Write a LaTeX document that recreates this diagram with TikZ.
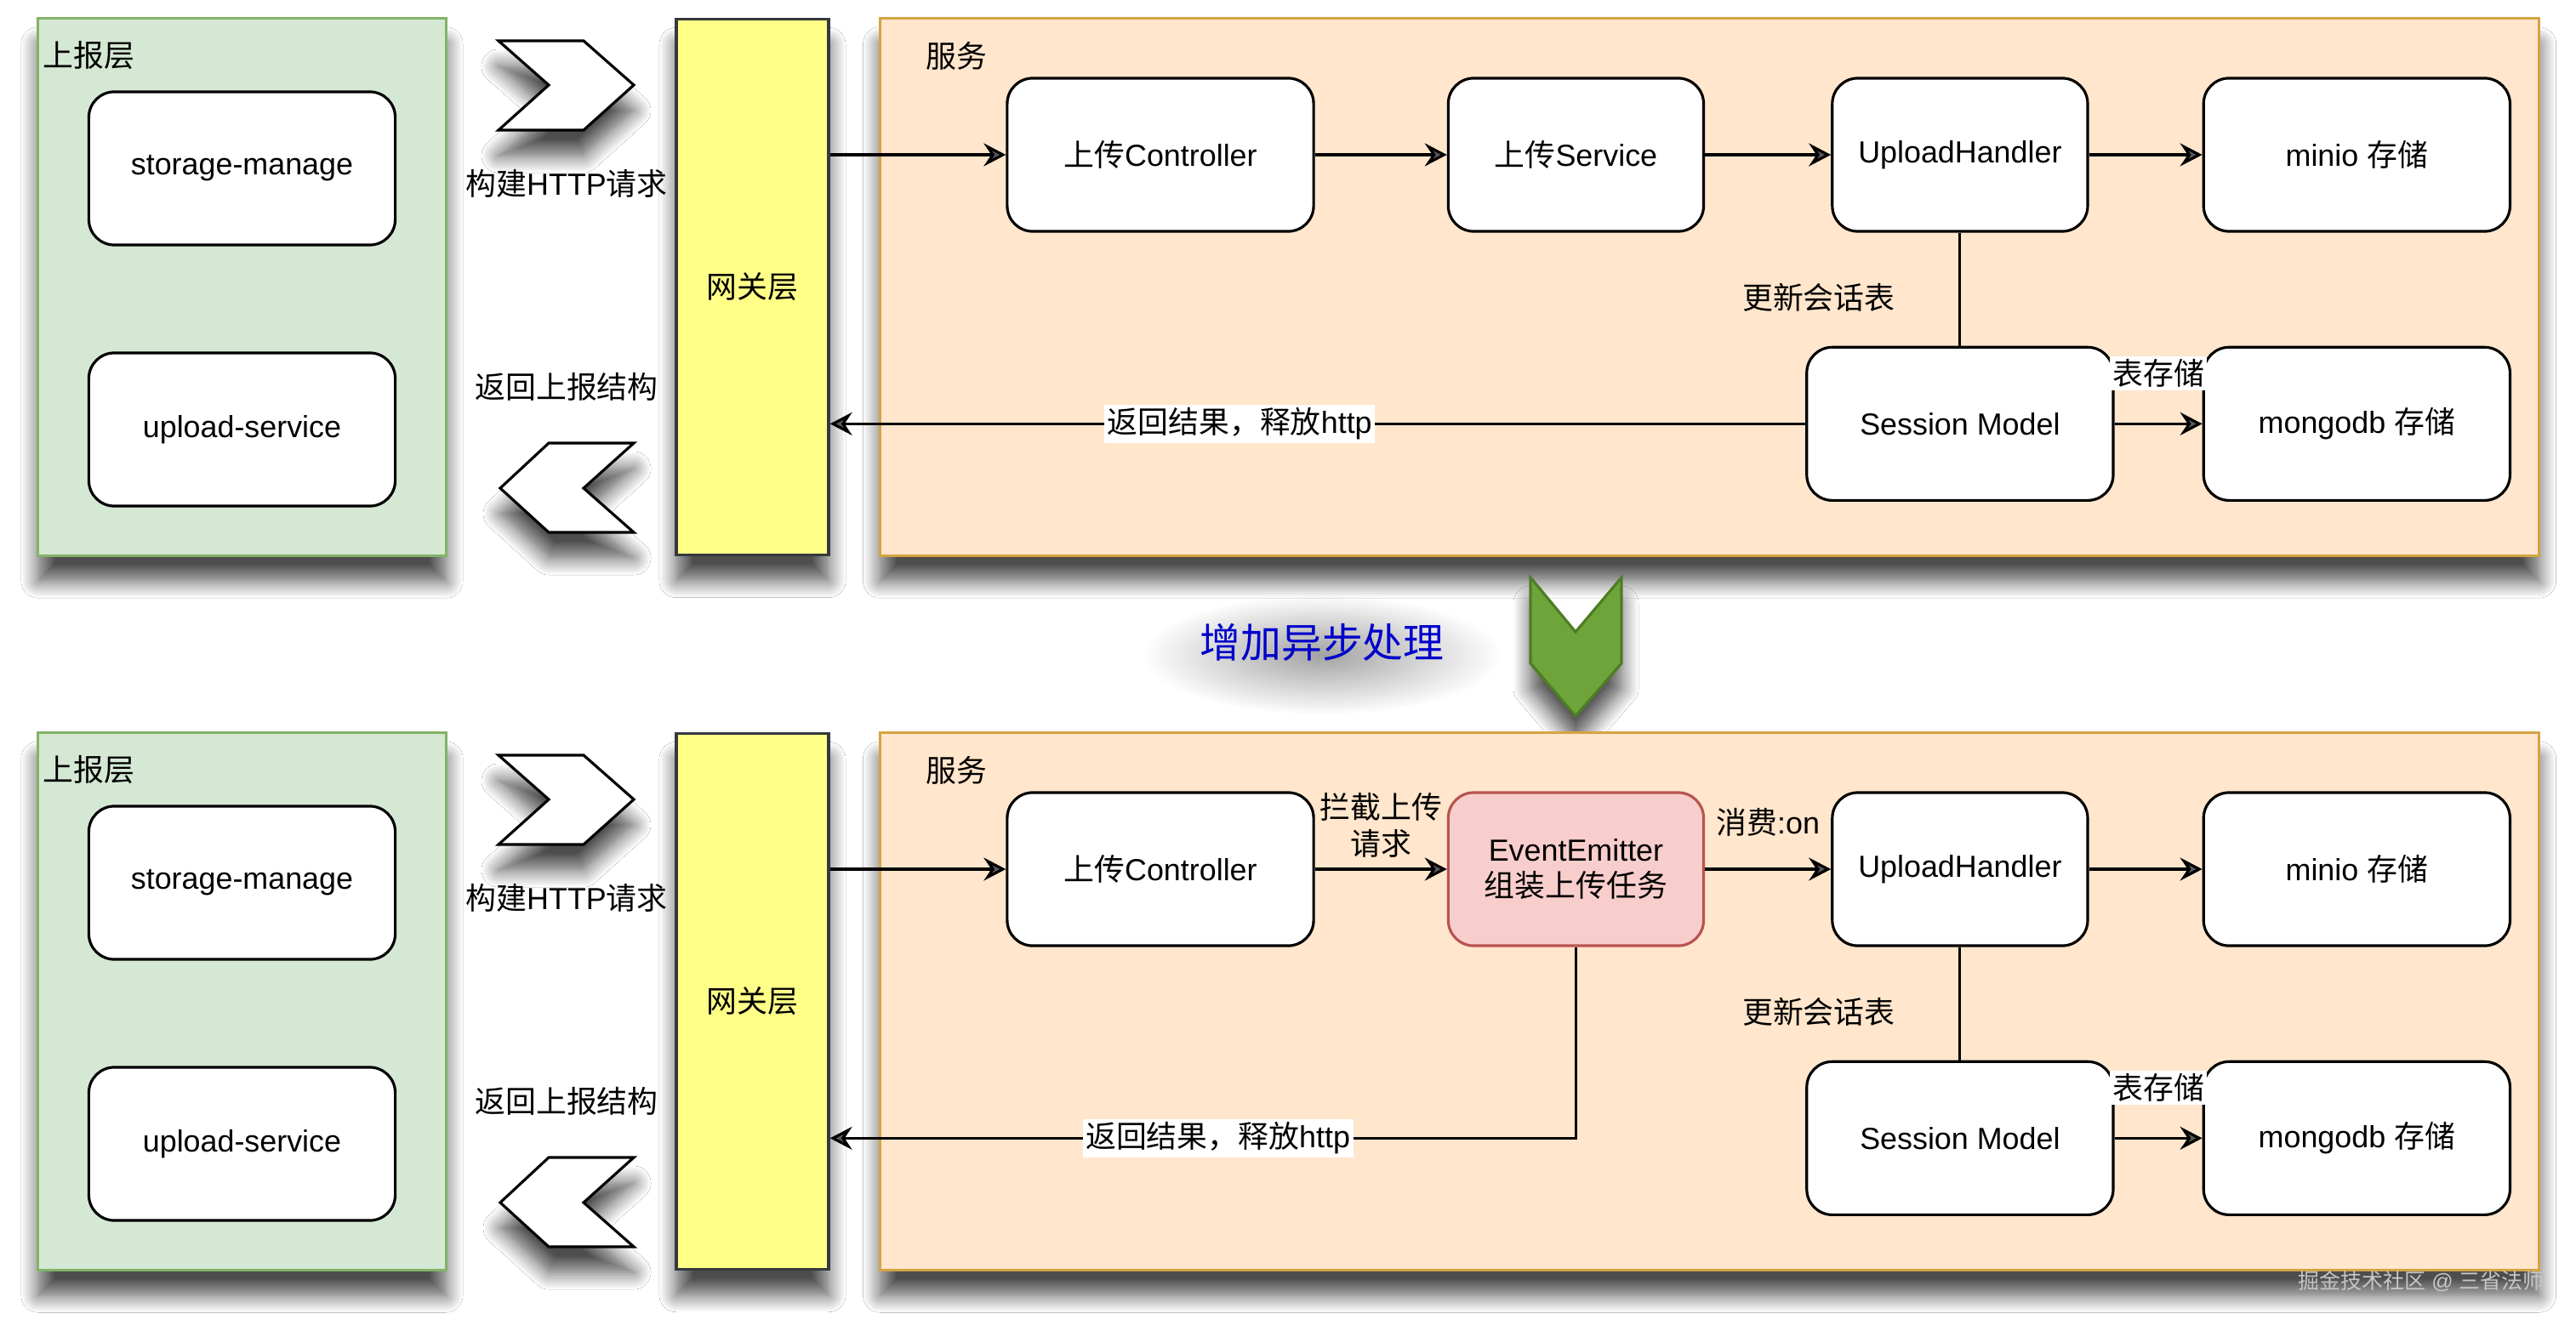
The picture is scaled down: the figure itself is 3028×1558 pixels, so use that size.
\documentclass[tikz,border=0pt]{standalone}
\usepackage{fontspec}
\setmainfont{Liberation Sans}
\newfontfamily\cjk{Noto Sans CJK SC}
\newcommand{\zh}[1]{{\cjk #1}}
\usetikzlibrary{arrows.meta,positioning,shadows.blur,fadings}
\definecolor{reportfill}{HTML}{D5E8D4}
\definecolor{reportline}{HTML}{82B366}
\definecolor{gwfill}{HTML}{FFFF88}
\definecolor{gwline}{HTML}{36393D}
\definecolor{svcfill}{HTML}{FFE6CC}
\definecolor{svcline}{HTML}{D4A443}
\definecolor{emitfill}{HTML}{F8CECC}
\definecolor{emitline}{HTML}{B85450}
\definecolor{asyncfill}{HTML}{6EA439}
\definecolor{asyncline}{HTML}{4D7D24}
\definecolor{asyncblue}{HTML}{0000CC}
\tikzfading[name=glow, inner color=transparent!20, outer color=transparent!100]

\begin{document}
\begin{tikzpicture}[
    x=0.01cm, y=-0.01cm,
    font=\fontsize{10.2}{12.2}\selectfont,
    soft/.style={blur shadow={shadow xshift=0mm, shadow yshift=-3mm, shadow blur steps=12, shadow blur radius=2mm, shadow opacity=70}},
    layer/.style={rectangle, line width=0.9pt, soft},
    box/.style={rectangle, rounded corners=0.3cm, draw=black, fill=white, line width=0.9pt, minimum width=3.6cm, minimum height=1.8cm, align=center},
    tag/.style={anchor=west, inner sep=0pt},
    chev/.style={draw=black, fill=white, line width=0.9pt, soft},
    arrow/.style={-{Stealth[length=2.6mm, width=2.7mm, inset=0.9mm]}, line width=0.9pt},
    link/.style={line width=0.9pt},
    note/.style={fill=white, inner sep=1pt}
]
    \fill[white] (0,0) rectangle (3028,1558);
    \useasboundingbox (0,0) rectangle (3028,1558);

    % before: synchronous upload
    \node[layer, draw=reportline, fill=reportfill, minimum width=4.79cm, minimum height=6.31cm] (report) at (284.5,337.5) {};
    \node[tag] (reportlab) at (50,65) {\zh{上报层}};
    \node[box] (storage) at (284.5,198) {storage-manage};
    \node[box] (uploadsvc) at (284.5,505) {upload-service};
    \draw[chev] (586,48) -- (686,48) -- (745,100) -- (686,153) -- (586,153) -- (645,100) -- cycle;
    \node (reqlab) at (666,216) {\zh{构建}HTTP\zh{请求}};
    \node (retlab) at (666,455) {\zh{返回上报结构}};
    \draw[chev] (745,521) -- (645,521) -- (588,574) -- (645,626) -- (745,626) -- (686,574) -- cycle;
    \node[layer, draw=gwline, fill=gwfill, minimum width=1.79cm, minimum height=6.3cm] (gw) at (884.5,337.5) {\zh{网关层}};
    \node[layer, draw=svcline, fill=svcfill, minimum width=19.49cm, minimum height=6.31cm] (svcarea) at (2009.5,337.5) {};
    \node[tag] (svclab) at (1088,66) {\zh{服务}};
    \node[box] (ctrl) at (1364,182) {\zh{上传}Controller};
    \node[box, minimum width=3cm, right=1.55cm of ctrl] (svc) {\zh{上传}Service};
    \node[box, minimum width=3cm, right=1.48cm of svc] (handler) {UploadHandler};
    \node[box, right=1.33cm of handler] (minio) {minio \zh{存储}};
    \node[box, below=1.33cm of handler] (session) {Session Model};
    \node[box, right=1.03cm of session] (mongo) {mongodb \zh{存储}};

    \draw[arrow] (gw.east |- ctrl.west) -- (ctrl.west);
    \draw[arrow] (ctrl) -- (svc);
    \draw[arrow] (svc) -- (handler);
    \draw[arrow] (handler) -- (minio);
    \draw[link] (handler) -- node[left=6.3mm, yshift=-1mm] (updlab) {\zh{更新会话表}} (session);
    \draw[arrow] (session) -- node[above=3.8mm, note] (storelab) {\zh{表存储}} (mongo);
    \draw[arrow] (session) -- node[pos=0.58, note] (backlab) {\zh{返回结果，释放}http} (session.west -| gw.east);

    % switch
    \fill[black!45, path fading=glow] (1554,770) ellipse (210 and 70);
    \node[text=asyncblue, font=\fontsize{13.6}{16}\selectfont] (async) at (1554,755) {\zh{增加异步处理}};
    \draw[chev, draw=asyncline, fill=asyncfill] (1799,679) -- (1852,743) -- (1906,679) -- (1906,780) -- (1852,842) -- (1799,780) -- cycle;

    % after: event emitter in between
    \node[layer, draw=reportline, fill=reportfill, minimum width=4.79cm, minimum height=6.31cm] (reportB) at (284.5,1177.5) {};
    \node[tag] (reportlabB) at (50,905) {\zh{上报层}};
    \node[box] (storageB) at (284.5,1038) {storage-manage};
    \node[box] (uploadsvcB) at (284.5,1345) {upload-service};
    \draw[chev] (586,888) -- (686,888) -- (745,940) -- (686,993) -- (586,993) -- (645,940) -- cycle;
    \node (reqlabB) at (666,1056) {\zh{构建}HTTP\zh{请求}};
    \node (retlabB) at (666,1295) {\zh{返回上报结构}};
    \draw[chev] (745,1361) -- (645,1361) -- (588,1414) -- (645,1466) -- (745,1466) -- (686,1414) -- cycle;
    \node[layer, draw=gwline, fill=gwfill, minimum width=1.79cm, minimum height=6.3cm] (gwB) at (884.5,1177.5) {\zh{网关层}};
    \node[layer, draw=svcline, fill=svcfill, minimum width=19.49cm, minimum height=6.31cm] (svcareaB) at (2009.5,1177.5) {};
    \node[tag] (svclabB) at (1088,906) {\zh{服务}};
    \node[box] (ctrlB) at (1364,1022) {\zh{上传}Controller};
    \node[box, minimum width=3cm, draw=emitline, fill=emitfill, right=1.55cm of ctrlB] (emitter) {EventEmitter\\\zh{组装上传任务}};
    \node[box, minimum width=3cm, right=1.48cm of emitter] (handlerB) {UploadHandler};
    \node[box, right=1.33cm of handlerB] (minioB) {minio \zh{存储}};
    \node[box, below=1.33cm of handlerB] (sessionB) {Session Model};
    \node[box, right=1.03cm of sessionB] (mongoB) {mongodb \zh{存储}};

    \draw[arrow] (gwB.east |- ctrlB.west) -- (ctrlB.west);
    \draw[arrow] (ctrlB) -- node[above, align=center] (cutlab) {\zh{拦截上传}\\\zh{请求}} (emitter);
    \draw[arrow] (emitter) -- node[above=2.5mm] (eatlab) {\zh{消费}:on} (handlerB);
    \draw[arrow] (handlerB) -- (minioB);
    \draw[link] (handlerB) -- node[left=6.3mm, yshift=-1mm] (updlabB) {\zh{更新会话表}} (sessionB);
    \draw[arrow] (sessionB) -- node[above=3.8mm, note] (storelabB) {\zh{表存储}} (mongoB);
    \draw[arrow] (emitter) |- node[pos=0.74, note] (backlabB) {\zh{返回结果，释放}http} (sessionB.west -| gwB.east);

    \node[text=gray!45, font=\fontsize{7.1}{8}\selectfont] (mark) at (2846,1507) {\zh{掘金技术社区} @ \zh{三省法师}};
\end{tikzpicture}
\end{document}
